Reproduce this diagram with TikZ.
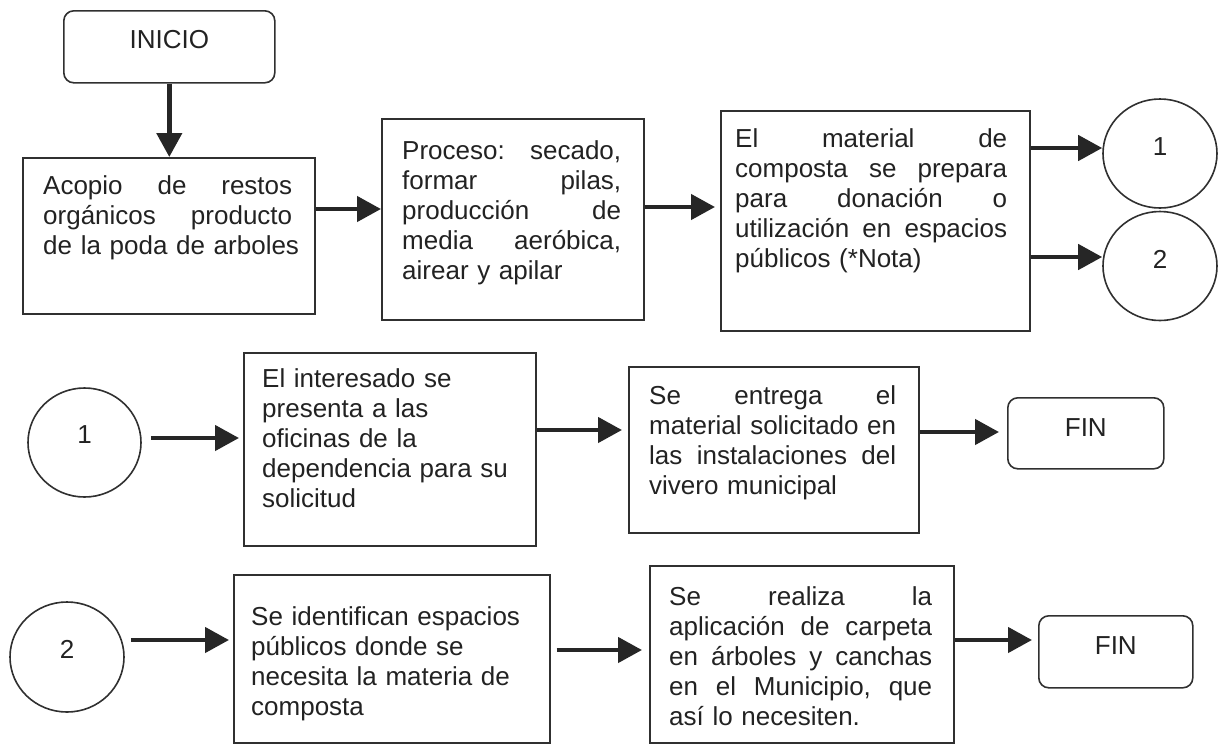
\documentclass[tikz,border=0pt]{standalone}
\usepackage{xcolor}
\usepackage{fontspec}
\setmainfont{Liberation Sans}
\usetikzlibrary{arrows.meta,shapes.geometric}
\definecolor{ink}{HTML}{222222}
\definecolor{edge}{HTML}{303030}
\definecolor{arrowc}{HTML}{262626}
\newcommand{\jln}[2]{\leavevmode\hbox to #1{#2}}
\begin{document}
\begin{tikzpicture}[x=1pt,y=-1pt,
  every node/.style={font=\fontsize{26}{30}\selectfont, text=ink},
  box/.style={draw=edge, line width=1.6pt, inner sep=0pt, anchor=north west},
  term/.style={box, rounded corners=10pt, text depth=12pt},
  conn/.style={draw=edge, line width=1.6pt, ellipse, inner sep=0pt, text depth=13pt},
  txt/.style={inner sep=0pt, anchor=north west, align=left},
  arr/.style={draw=arrowc, line width=4.5pt, -{Triangle[width=25pt,length=24pt]}},
]
\useasboundingbox (0,0) rectangle (1219,748);

% ---- row 1 ----
\node[term, text depth=14pt, minimum width=211pt, minimum height=72pt] (ini) at (63,10) {INICIO};
\node[box, minimum width=292pt, minimum height=156pt] (A) at (22,157) {};
\node[box, minimum width=262pt, minimum height=201pt] (B) at (381,118) {};
\node[box, minimum width=309pt, minimum height=220pt] (C) at (720,110) {};
\node[conn, minimum width=114pt, minimum height=109pt] (c1) at (1160,153.5) {1};
\node[conn, minimum width=114pt, minimum height=109pt] (c2) at (1160,266) {2};

\node[txt, text width=270pt] (tA) at (43,172) {\rule{0pt}{22pt}\jln{249pt}{Acopio\hfill de\hfill restos}\\
\jln{249pt}{orgánicos\hfill producto}\\
de la poda de arboles};
\node[txt, text width=240pt] (tB) at (402,137) {\rule{0pt}{22pt}\jln{219pt}{Proceso:\hfill secado,}\\
\jln{219pt}{formar\hfill pilas,}\\
\jln{219pt}{producción\hfill de}\\
\jln{219pt}{media\hfill aeróbica,}\\
airear y apilar};
\node[txt, text width=290pt] (tC) at (735,125) {\rule{0pt}{22pt}\jln{272pt}{El\hfill material\hfill de}\\
\jln{272pt}{composta\hfill se\hfill prepara}\\
\jln{272pt}{para\hfill donación\hfill o}\\
\jln{272pt}{utilización\hfill en\hfill espacios}\\
públicos (*Nota)};

\draw[arr] (ini.south) -- (ini.south |- A.north);
\draw[arr] (A.east |- 0,209) -- (B.west |- 0,209);
\draw[arr, shorten >=5pt] (B.east |- 0,207) -- (C.west |- 0,207);
\draw[arr] (C.east |- 0,148) -- (c1.west |- 0,148);
\draw[arr] (C.east |- 0,257) -- (c2.west |- 0,257);

% ---- row 2 ----
\node[conn, text depth=15pt, minimum width=113pt, minimum height=109pt] (c1b) at (84.5,442.5) {1};
\node[box, minimum width=292pt, minimum height=193pt] (D) at (243,352) {};
\node[box, minimum width=290pt, minimum height=166pt] (E) at (628,366) {};
\node[term, minimum width=156pt, minimum height=71pt] (fin1) at (1007,397) {FIN};

\node[txt, text width=270pt] (tD) at (262,365) {\rule{0pt}{22pt}El interesado se\\
presenta a las\\
oficinas de la\\
dependencia para su\\
solicitud};
\node[txt, text width=265pt] (tE) at (649,382) {\rule{0pt}{22pt}\jln{247pt}{Se\hfill entrega\hfill el}\\
\jln{247pt}{material\hfill solicitado\hfill en}\\
\jln{247pt}{las\hfill instalaciones\hfill del}\\
vivero municipal};

\draw[arr, shorten <=9pt, shorten >=4pt] (c1b.east |- 0,438) -- (D.west |- 0,438);
\draw[arr, shorten >=6pt] (D.east |- 0,430) -- (E.west |- 0,430);
\draw[arr, shorten >=8pt] (E.east |- 0,432) -- (fin1.west |- 0,432);

% ---- row 3 ----
\node[conn, text depth=16pt, minimum width=114pt, minimum height=110pt] (c2b) at (67,657) {2};
\node[box, minimum width=316pt, minimum height=168pt] (F) at (233,574) {};
\node[box, minimum width=304pt, minimum height=177pt] (G) at (649,565) {};
\node[term, minimum width=154pt, minimum height=72pt] (fin2) at (1038,615) {FIN};

\node[txt, text width=295pt] (tF) at (251,603) {\rule{0pt}{22pt}Se identifican espacios\\
públicos donde se\\
necesita la materia de\\
composta};
\node[txt, text width=280pt] (tG) at (669,583) {\rule{0pt}{22pt}\jln{263pt}{Se\hfill realiza\hfill la}\\
\jln{263pt}{aplicación\hfill de\hfill carpeta}\\
\jln{263pt}{en\hfill árboles\hfill y\hfill canchas}\\
\jln{263pt}{en\hfill el\hfill Municipio,\hfill que}\\
así lo necesiten.};

\draw[arr, shorten <=6pt, shorten >=4pt] (c2b.east |- 0,640) -- (F.west |- 0,640);
\draw[arr, shorten <=6pt, shorten >=7pt] (F.east |- 0,650) -- (G.west |- 0,650);
\draw[arr, shorten >=6pt] (G.east |- 0,640) -- (fin2.west |- 0,640);
\end{tikzpicture}
\end{document}
